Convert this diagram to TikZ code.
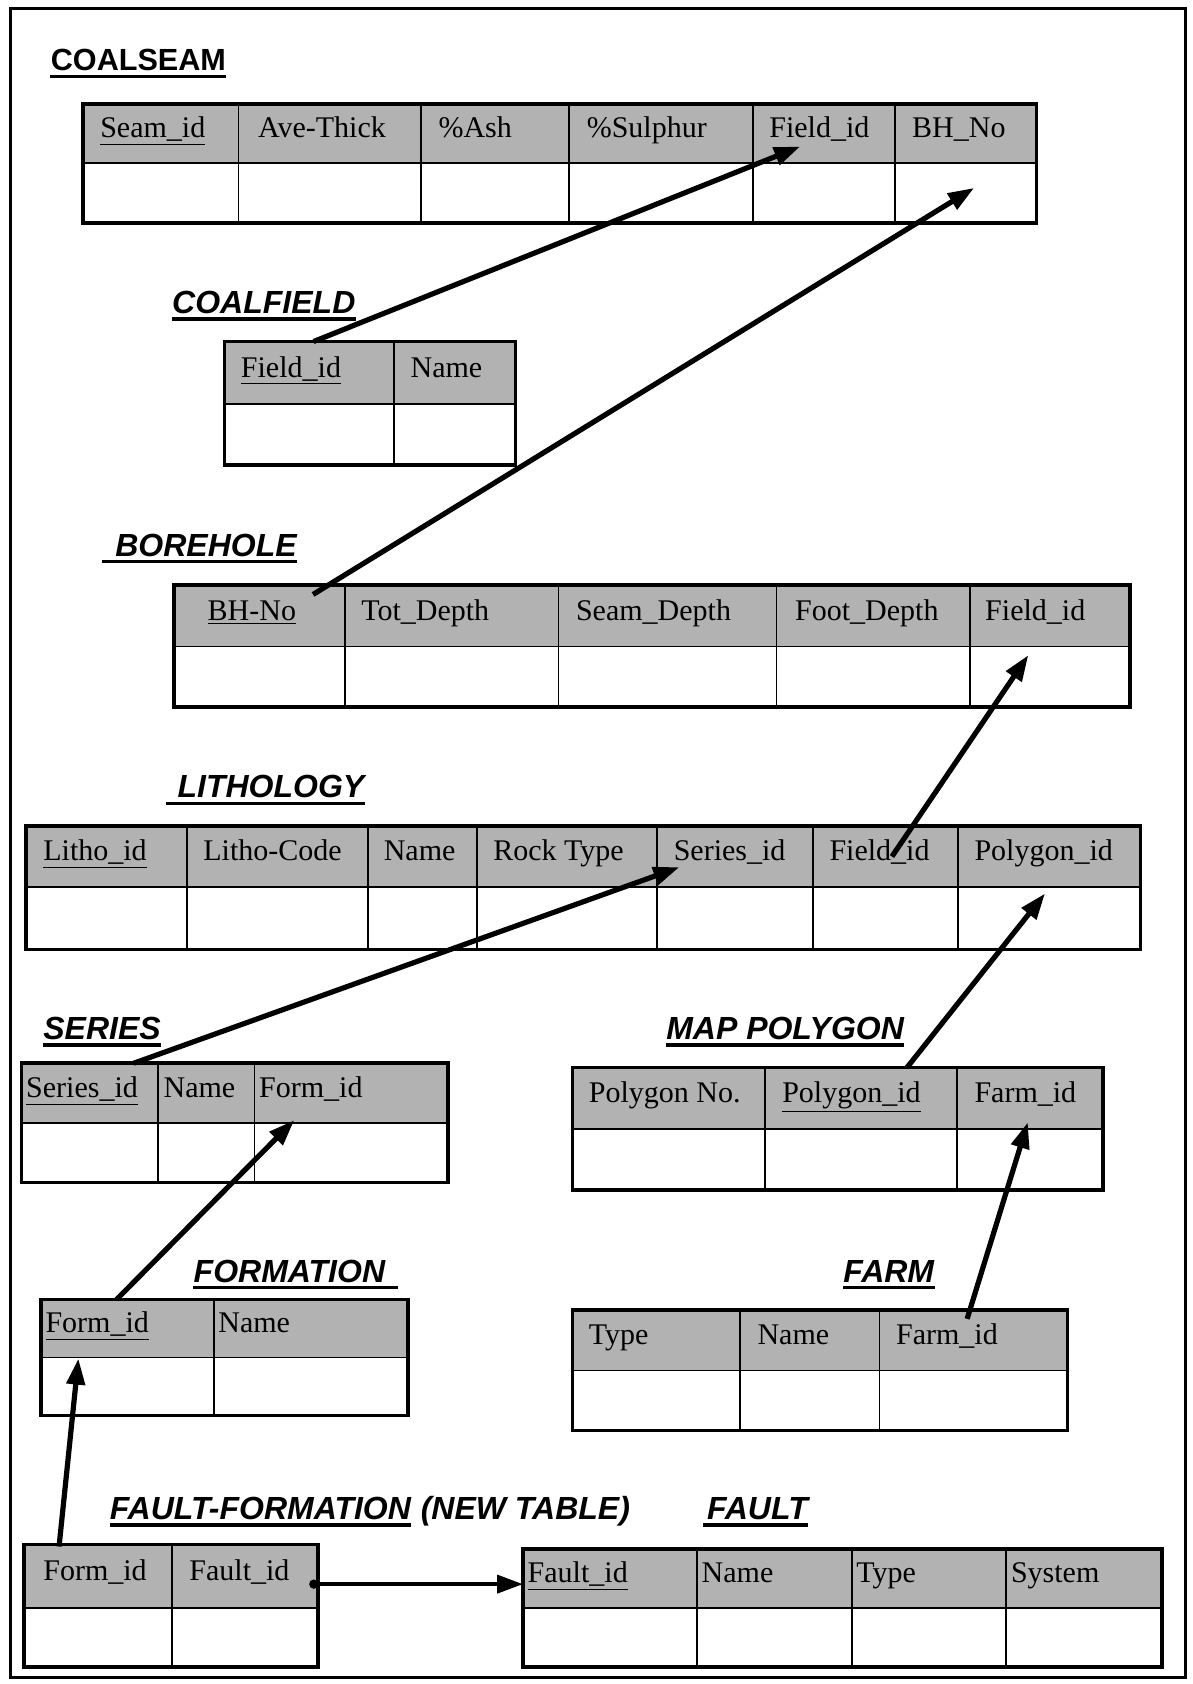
\documentclass[tikz,border=0pt]{standalone}
\usepackage{fontspec}
\setmainfont{Liberation Serif}
\newfontfamily\headfont{Liberation Sans}
\usetikzlibrary{arrows.meta,calc}

% one drawing unit
\def\ux{0.53694pt}

\tikzset{
  cellbox/.style={draw, line width=0.9pt, inner sep=0pt, outer sep=0pt, rectangle},
  headcell/.style={cellbox, fill=black!30},
  datacell/.style={cellbox, fill=white},
  tblout/.style={line width=1.9pt},
  fieldlbl/.style={font=\fontsize{15}{18}\selectfont, inner sep=0pt, anchor=base west},
  tbltitle/.style={font=\headfont\bfseries\itshape\fontsize{16}{19}\selectfont, inner sep=0pt, anchor=base west},
  titlerule/.style={line width=1.6pt},
  fk/.style={line width=2.6pt, -{Triangle[length=13pt,width=9pt]}},
}

% #1 name, #2 left, #3 top, #4 header bottom, #5 bottom, #6 list right/label/padding
\newcommand\dbtable[6]{%
  \foreach \rx/\lab/\pad [count=\i, remember=\rx as \lx (initially #2)] in {#6} {
    \node[headcell, anchor=north west, minimum width={(\rx-\lx)*\ux}, minimum height={(#4-#3)*\ux}] (#1-h\i) at (\lx,#3) {};
    \node[datacell, anchor=north west, minimum width={(\rx-\lx)*\ux}, minimum height={(#5-#4)*\ux}] (#1-d\i) at (\lx,#4) {};
    \node[fieldlbl] (#1-t\i) at ({\lx+\pad},{#3+0.57*(#4-#3)}) {\lab};
    \xdef\tbllast{\i}
  }
  \draw[tblout] (#1-h1.north west) rectangle (#1-d\tbllast.south east);
}

% underline of a title node: #1 node, #2 extra on the left, #3 extra on the right
\newcommand\titleline[3]{%
  \draw[titlerule] ($(#1.base west)+(-#2,5)$) -- ($(#1.base east)+(#3,5)$);
}

\begin{document}
\begin{tikzpicture}[x=0.53694pt, y=-0.53694pt]
\fill[white] (0,0) rectangle (1110,1568);
\useasboundingbox (0,0) rectangle (1110,1568);
\draw[line width=1.7pt] (10,8) rectangle (1104,1562);

% tables
\dbtable{cs}{77}{97}{152}{208}{222/\underline{Seam\_id}/16, 392/Ave-Thick/18, 530/\%Ash/16, 701/\%Sulphur/16, 833/Field\_id/15, 965/BH\_No/16}
\dbtable{cf}{209}{318}{376}{433}{367/\underline{Field\_id}/15, 480/Name/15}
\dbtable{bh}{162}{545}{602}{658}{321/\underline{BH-No}/31, 520/Tot\_Depth/15, 723/Seam\_Depth/16, 903/Foot\_Depth/17, 1052/Field\_id/14}
\dbtable{li}{24}{769}{826}{884}{174/\underline{Litho\_id}/16, 343/Litho-Code/15, 444/Name/14, 612/Rock Type/15, 757/Series\_id/15, 892/Field\_id/15, 1062/Polygon\_id/15}
\dbtable{se}{20}{990}{1046}{1101}{147/\underline{Series\_id}/4, 237/Name/5, 417/Form\_id/4}
\dbtable{mp}{533}{994}{1051}{1108}{712/Polygon No./15, 891/\underline{Polygon\_id}/16, 1027/Farm\_id/16}
\dbtable{fo}{38}{1210}{1264}{1318}{199/\underline{Form\_id}/4, 380/Name/4}
\dbtable{fa}{533}{1220}{1276}{1332}{689/Type/15, 819/Name/16, 994/Farm\_id/15}
\dbtable{ff}{22}{1438}{1497}{1552}{160/Form\_id/18, 296/Fault\_id/16}
\dbtable{fl}{487}{1442}{1497}{1552}{649/\underline{Fault\_id}/4, 793/Name/4, 937/Type/4, 1082/System/4}

% titles
\node[tbltitle, font=\headfont\bfseries\fontsize{15.3}{18}\selectfont] (t-cs) at (47,66) {COALSEAM};
\node[tbltitle] (t-cf) at (160,292) {COALFIELD};
\node[tbltitle] (t-bh) at (107,518) {BOREHOLE};
\node[tbltitle] (t-li) at (165,743) {LITHOLOGY};
\node[tbltitle] (t-se) at (40,968) {SERIES};
\node[tbltitle] (t-mp) at (620,968) {MAP POLYGON};
\node[tbltitle] (t-fo) at (180,1194) {FORMATION};
\node[tbltitle] (t-fa) at (785,1194) {FARM};
\node[tbltitle] (t-ff) at (102,1415) {FAULT-FORMATION};
\node[tbltitle, anchor=base west, xshift=4.5pt] (t-ffx) at (t-ff.base east) {(NEW TABLE)};
\node[tbltitle] (t-fl) at (658,1415) {FAULT};
\titleline{t-cs}{0}{0}
\titleline{t-cf}{0}{0}
\titleline{t-bh}{12}{0}
\titleline{t-li}{10}{0}
\titleline{t-se}{0}{0}
\titleline{t-mp}{0}{0}
\titleline{t-fo}{0}{12}
\titleline{t-fa}{0}{0}
\titleline{t-ff}{0}{0}
\titleline{t-fl}{3}{0}

% foreign key links
\draw[fk] ($(cf-h1.north)+(4,0)$) -- ($(cs-h5.center)+(-22,12)$);
\draw[fk] ($(bh-h1.center)+(50,-20)$) -- ($(cs-d6.center)+(8,-5)$);
\draw[fk] ($(li-h6.center)+(6,0)$) -- ($(bh-d5.center)+(-20,-20)$);
\draw[fk] ($(se-h1.north)+(41,0)$) -- ($(li-h5.center)+(-52,10)$);
\draw[fk] ($(mp-h2.north)+(43,0)$) -- ($(li-d7.center)+(-4,-23)$);
\draw[fk] ($(fa-h3.center)+(-6,-20)$) -- ($(mp-d3.north)+(-2,-6)$);
\draw[fk] ($(fo-h1.north)+(-10,0)$) -- ($(se-d3.north west)+(37,-3)$);
\draw[fk] ($(ff-h1.north)+(-36,2)$) -- ($(fo-d1.north west)+(35,1)$);
\draw[fk, line width=2pt, {Circle[length=4.5pt]}-{Triangle[length=13pt,width=9pt]}] ($(ff-h2.east)+(-8,7.5)$) -- ($(fl-h1.west)+(0,5.5)$);
\end{tikzpicture}
\end{document}
